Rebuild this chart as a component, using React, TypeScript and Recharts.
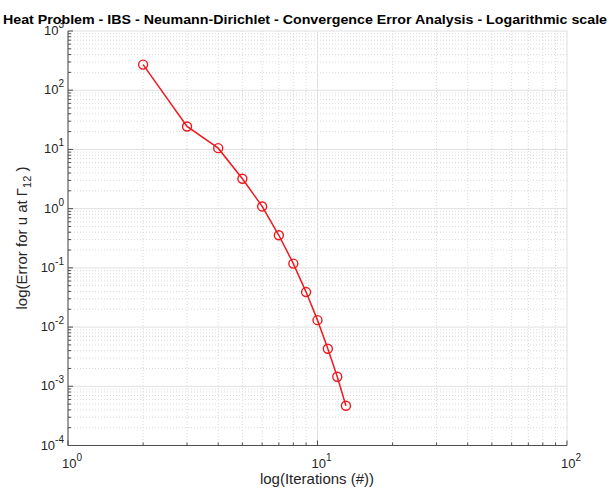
import { LineChart, Line, XAxis, YAxis, CartesianGrid } from 'recharts';

// iterations (x) and convergence error (y)
const iterations = [2, 3, 4, 5, 6, 7, 8, 9, 10, 11, 12, 13];
const errors = [271, 24.4, 10.5, 3.2, 1.09, 0.355, 0.118, 0.039, 0.0131, 0.0043, 0.00145, 0.00047];

const xMajorTicks = [1, 10, 100];
const yMajorTicks = [1e-4, 1e-3, 1e-2, 1e-1, 1, 10, 100, 1000];

const data = iterations.map((it, i) => ({ iter: it, err: errors[i] }));

// minor log ticks 2..9 inside every decade
const withMinors = (majors: number[]) => {
  const out: number[] = [];
  majors.forEach((m, i) => {
    out.push(m);
    if (i < majors.length - 1) {
      for (let k = 2; k <= 9; k++) out.push(+(m * k).toPrecision(6));
    }
  });
  return out;
};
const xAllTicks = withMinors(xMajorTicks);
const yAllTicks = withMinors(yMajorTicks);
const xMinor = xAllTicks.filter((v) => !xMajorTicks.includes(v));
const yMinor = yAllTicks.filter((v) => !yMajorTicks.includes(v));

const FONT = '"Liberation Sans", Arial, Helvetica, sans-serif';
const RED = '#f0191e';
const AXIS = '#4d4d4d';

const expOf = (v: number) => Math.round(Math.log10(v));

const PowerLabel = ({ x, y, v, anchor }: any) => {
  const e = expOf(v);
  return (
    <text x={x} y={y} textAnchor={anchor} fontFamily={FONT} fontSize={13} fill='#262626'>
      10
      <tspan dy={-7} fontSize={10}>
        {e}
      </tspan>
    </text>
  );
};

const LeftTick = (props: any) => {
  const { x, y, payload } = props;
  const major = yMajorTicks.includes(payload.value);
  return (
    <g>
      <line x1={x} x2={x + (major ? 5 : 3)} y1={y} y2={y} stroke={AXIS} />
      {major && <PowerLabel x={x - 4} y={y + 4} v={payload.value} anchor='end' />}
    </g>
  );
};

const RightTick = (props: any) => {
  const { x, y, payload } = props;
  const major = yMajorTicks.includes(payload.value);
  return <line x1={x} x2={x - (major ? 5 : 3)} y1={y} y2={y} stroke={AXIS} />;
};

const BottomTick = (props: any) => {
  const { x, y, payload } = props;
  const major = xMajorTicks.includes(payload.value);
  return (
    <g>
      <line x1={x} x2={x} y1={y} y2={y - (major ? 5 : 3)} stroke={AXIS} />
      {major && <PowerLabel x={x + 4} y={y + 22} v={payload.value} anchor='middle' />}
    </g>
  );
};

const TopTick = (props: any) => {
  const { x, y, payload } = props;
  const major = xMajorTicks.includes(payload.value);
  return <line x1={x} x2={x} y1={y} y2={y + (major ? 5 : 3)} stroke={AXIS} />;
};

export default function App() {
  return (
    <div style={{ position: 'absolute', left: 0, top: 0, width: 611, height: 493, background: '#fff' }}>
      <LineChart width={611} height={493} data={data} margin={{ top: 31, right: 44, bottom: 0, left: 0 }}>
        <CartesianGrid
          horizontalValues={yMinor}
          verticalValues={xMinor}
          stroke='#dadada'
          strokeDasharray='1 2'
        />
        <CartesianGrid
          horizontalValues={yMajorTicks}
          verticalValues={xMajorTicks}
          stroke='#e0e0e0'
        />
        <XAxis
          dataKey='iter'
          type='number'
          scale='log'
          domain={[1, 100]}
          allowDataOverflow
          ticks={xAllTicks}
          interval={0}
          height={47.5}
          tickSize={0}
          tickMargin={0}
          tickLine={false}
          stroke={AXIS}
          tick={<BottomTick />}
        />
        <XAxis
          xAxisId='top'
          orientation='top'
          dataKey='iter'
          type='number'
          scale='log'
          domain={[1, 100]}
          allowDataOverflow
          ticks={xAllTicks}
          interval={0}
          height={0}
          tickSize={0}
          tickMargin={0}
          tickLine={false}
          stroke={AXIS}
          tick={<TopTick />}
        />
        <YAxis
          type='number'
          scale='log'
          domain={[1e-4, 1e3]}
          allowDataOverflow
          ticks={yAllTicks}
          interval={0}
          width={68}
          tickSize={0}
          tickMargin={0}
          tickLine={false}
          stroke={AXIS}
          tick={<LeftTick />}
        />
        <YAxis
          yAxisId='right'
          orientation='right'
          type='number'
          scale='log'
          domain={[1e-4, 1e3]}
          allowDataOverflow
          ticks={yAllTicks}
          interval={0}
          width={0}
          tickSize={0}
          tickMargin={0}
          tickLine={false}
          stroke={AXIS}
          tick={<RightTick />}
        />
        <Line
          dataKey='err'
          stroke={RED}
          strokeWidth={1.5}
          dot={{ r: 4.5, stroke: RED, strokeWidth: 1.4, fill: 'none' }}
          isAnimationActive={false}
        />
      </LineChart>
      <svg
        width={611}
        height={493}
        style={{ position: 'absolute', left: 0, top: 0, pointerEvents: 'none' }}
      >
        <text
          x={305}
          y={24}
          textAnchor='middle'
          fontFamily={FONT}
          fontSize={13.5}
          fontWeight='bold'
          fill='#000'
          textLength={604}
          lengthAdjust='spacingAndGlyphs'
        >
          Heat Problem - IBS - Neumann-Dirichlet - Convergence Error Analysis - Logarithmic scale
        </text>
        <text x={317} y={484} textAnchor='middle' fontFamily={FONT} fontSize={15} fill='#262626'>
          log(Iterations (#))
        </text>
        <text
          transform='translate(27,238) rotate(-90)'
          textAnchor='middle'
          fontFamily={FONT}
          fontSize={15}
          fill='#262626'
        >
          log(Error for u at Γ
          <tspan dy={4} fontSize={11}>
            12
          </tspan>
          <tspan dy={-4}> )</tspan>
        </text>
      </svg>
    </div>
  );
}
